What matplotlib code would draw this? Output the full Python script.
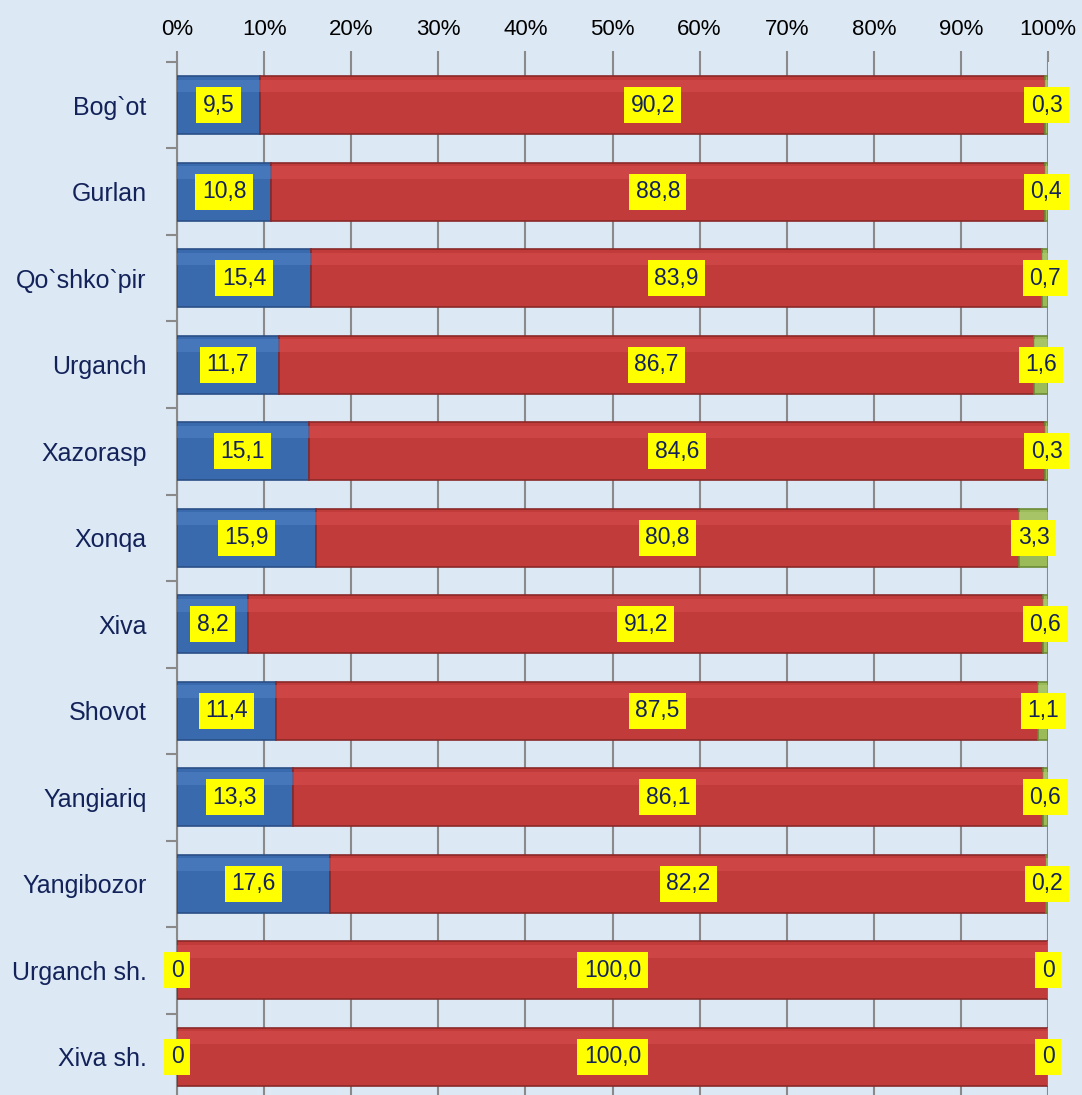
import numpy as np
import matplotlib
matplotlib.use("Agg")
import matplotlib.pyplot as plt

plt.rcParams['font.family'] = ['Liberation Sans', 'DejaVu Sans']

# districts, top to bottom
districts = ['Bog`ot', 'Gurlan', 'Qo`shko`pir', 'Urganch', 'Xazorasp', 'Xonqa',
             'Xiva', 'Shovot', 'Yangiariq', 'Yangibozor', 'Urganch sh.', 'Xiva sh.']
blue_vals = [9.5, 10.8, 15.4, 11.7, 15.1, 15.9, 8.2, 11.4, 13.3, 17.6, 0, 0]
red_vals = [90.2, 88.8, 83.9, 86.7, 84.6, 80.8, 91.2, 87.5, 86.1, 82.2, 100, 100]
green_vals = [0.3, 0.4, 0.7, 1.6, 0.3, 3.3, 0.6, 1.1, 0.6, 0.2, 0, 0]
x_ticks = [0, 10, 20, 30, 40, 50, 60, 70, 80, 90, 100]

colors = ['#3A6AAE', '#C23B3B', '#9BBB59']
edges = ['#2A4F86', '#8A2828', '#6A8A35']
highlights = ['#4F80C4', '#D64D4D', '#B0CC70']


def fmt(v):
    if v == 0:
        return '0'
    return f'{v:.1f}'.replace('.', ',')


fig = plt.figure(figsize=(10.82, 10.95), dpi=100)
fig.patch.set_facecolor('#DCE8F4')
ax = fig.add_axes([0.1636, -0.0046, 0.805, 0.948])
ax.set_facecolor('#DCE8F4')

y = np.arange(len(districts))
h = 0.67
left = np.zeros(len(districts))
for vals, c, ec, hc in zip([blue_vals, red_vals, green_vals], colors, edges, highlights):
    vals = np.array(vals, dtype=float)
    ax.barh(y, vals, left=left, height=h, color=c, edgecolor=ec, linewidth=1.2, zorder=3)
    # lighter strip at top to fake the bevel
    ax.barh(y - h * 0.33, vals, left=left, height=h * 0.22, color=hc, linewidth=0,
            zorder=4, alpha=0.6)
    for yi, l, v in zip(y, left, vals):
        ax.text(l + v / 2, yi, fmt(v), ha='center', va='center', fontsize=16.5,
                color='#13235A', zorder=6,
                bbox=dict(boxstyle='square,pad=0.28', fc='#FFFF00', ec='none'))
    left += vals

ax.set_xlim(0, 100)
ax.set_ylim(len(districts) - 0.5, -0.5)
ax.set_xticks(x_ticks)
ax.set_xticklabels([f'{t}%' for t in x_ticks], fontsize=16)
ax.xaxis.tick_top()
ax.tick_params(axis='x', length=8, color='#8A8A8A', width=1.5, pad=8)
ax.grid(axis='x', color='#8A8A8A', linewidth=1.5, zorder=0)

ax.set_yticks(y)
ax.set_yticklabels(districts, fontsize=18, color='#13235A')
ax.set_yticks(np.arange(len(districts) + 1) - 0.5, minor=True)
ax.tick_params(axis='y', which='major', length=0, pad=22)
ax.tick_params(axis='y', which='minor', length=8, color='#8A8A8A', width=1.5)

for s in ['top', 'right', 'bottom']:
    ax.spines[s].set_visible(False)
ax.spines['left'].set_color('#8A8A8A')
ax.spines['left'].set_linewidth(1.5)

fig.savefig('out.png', dpi=100, facecolor=fig.get_facecolor())
